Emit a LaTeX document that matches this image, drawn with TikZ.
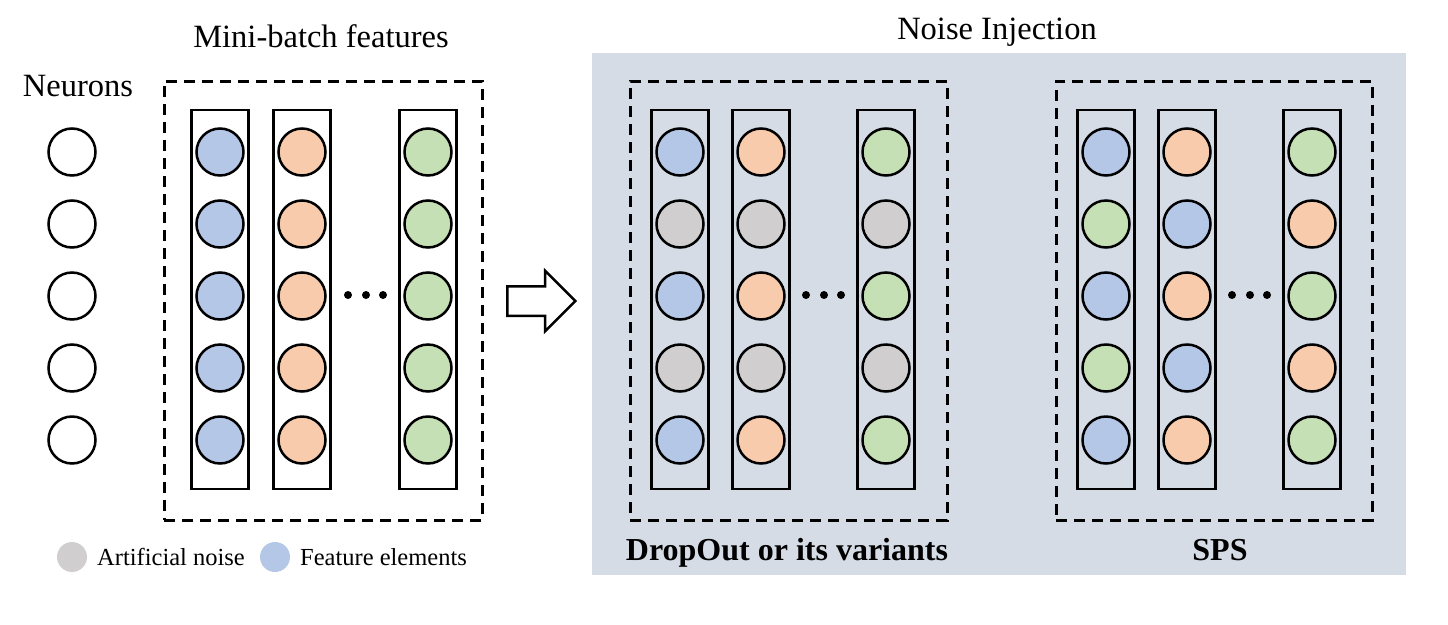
\documentclass[tikz,border=0pt]{standalone}
\usepackage{fontspec}
\setmainfont{Liberation Serif}
\usetikzlibrary{shapes.arrows}
\definecolor{featblue}{RGB}{180,199,231}
\definecolor{featorange}{RGB}{248,203,173}
\definecolor{featgreen}{RGB}{197,224,180}
\definecolor{noisegray}{RGB}{208,206,206}
\definecolor{panelgray}{RGB}{214,220,229}

\begin{document}
\begin{tikzpicture}[x=1pt, y=-1pt,
elem/.style={draw, shape=circle, minimum size=47pt, inner sep=0pt, line width=2.5pt},
colbox/.style={draw, shape=rectangle, minimum width=57pt, minimum height=379pt, inner sep=0pt, line width=2.5pt},
groupbox/.style={draw, shape=rectangle, dash pattern=on 11pt off 7pt, minimum height=439pt, inner sep=0pt, line width=3pt},
keydot/.style={shape=circle, minimum size=30pt, inner sep=0pt},
lbl/.style={font=\fontsize{32.5}{38}\selectfont, inner sep=0pt},
blbl/.style={font=\fontsize{32}{38}\selectfont\bfseries, inner sep=0pt},
keylbl/.style={font=\fontsize{24.5}{29}\selectfont, inner sep=0pt}]%styles for elements, columns and groups
\useasboundingbox (0,0) rectangle (1448,624);
\node[fill=panelgray, minimum width=814pt, minimum height=522pt, inner sep=0pt] (panel) at (999,314) {};

% titles
\node[lbl, anchor=base] (neurons) at (78,96.7) {Neurons};
\node[lbl, anchor=base] (mbtitle) at (321,47) {Mini-batch features};
\node[lbl, anchor=base] (noisetitle) at (997,39.3) {Noise Injection};
\node[blbl, anchor=base] (droptitle) at (787,560) {DropOut or its variants};
\node[blbl, anchor=base] (spstitle) at (1220,560) {SPS};

% neurons
\foreach \cy [count=\r] in {152,224,296,368,440}
  \node[elem, fill=white] (n\r) at (72,\cy) {};

% mini-batch features
\node[groupbox, minimum width=318pt] (mb) at (323,300.5) {};
\foreach \cx/\ca/\cb [count=\c] in {220/featblue/featblue, 302/featorange/featorange, 428/featgreen/featgreen} {
  \node[colbox] (mb-c\c) at (\cx,299.5) {};
  \foreach \cy [count=\r] in {152,224,296,368,440} {
    \ifodd\r \def\fc{\ca}\else \def\fc{\cb}\fi
    \node[elem, fill=\fc] (mb-c\c-r\r) at (\cx,\cy) {};
  }
}

% dropout
\node[groupbox, minimum width=317pt] (drop) at (788.5,300.5) {};
\foreach \cx/\ca/\cb [count=\c] in {680/featblue/noisegray, 761/featorange/noisegray, 886/featgreen/noisegray} {
  \node[colbox] (drop-c\c) at (\cx,299.5) {};
  \foreach \cy [count=\r] in {152,224,296,368,440} {
    \ifodd\r \def\fc{\ca}\else \def\fc{\cb}\fi
    \node[elem, fill=\fc] (drop-c\c-r\r) at (\cx,\cy) {};
  }
}

% sps
\node[groupbox, minimum width=316pt] (sps) at (1214,300.5) {};
\foreach \cx/\ca/\cb [count=\c] in {1106/featblue/featgreen, 1187/featorange/featblue, 1312/featgreen/featorange} {
  \node[colbox] (sps-c\c) at (\cx,299.5) {};
  \foreach \cy [count=\r] in {152,224,296,368,440} {
    \ifodd\r \def\fc{\ca}\else \def\fc{\cb}\fi
    \node[elem, fill=\fc] (sps-c\c-r\r) at (\cx,\cy) {};
  }
}

% dots between columns
\foreach \dx in {348,366,383,806,824,841,1232,1250,1267}
  \fill (\dx,295) circle (4pt);

% arrow
\node[draw, shape=single arrow, line width=2.5pt, minimum height=68pt, inner sep=13.5pt,
  single arrow head extend=15.5pt, single arrow tip angle=90] (inject) at (534,301) {};

% legend
\node[keydot, fill=noisegray] (key-noise) at (72,557) {};
\node[keylbl, anchor=base west] (key-noise-lbl) at (97,565) {Artificial noise};
\node[keydot, fill=featblue] (key-feat) at (275,557) {};
\node[keylbl, anchor=base west] (key-feat-lbl) at (300,565) {Feature elements};
\end{tikzpicture}
\end{document}
